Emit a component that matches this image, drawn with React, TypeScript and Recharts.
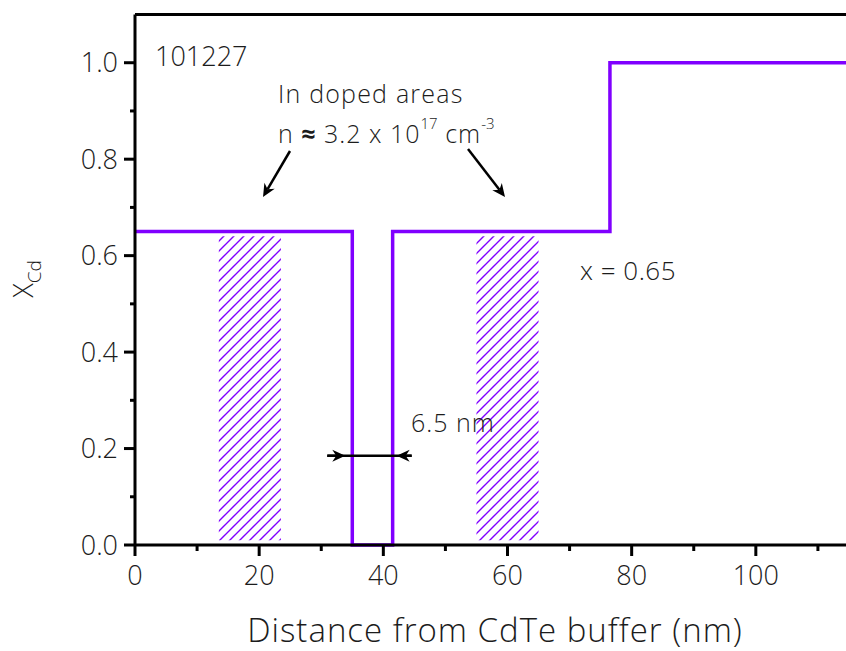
import { LineChart, Line, XAxis, YAxis, ReferenceArea, ReferenceLine } from "recharts";

// Cd composition profile (step profile of the quantum well structure)
const distance = [0, 35, 35, 41.5, 41.5, 76.5, 76.5, 120];
const xCd = [0.65, 0.65, 0, 0, 0.65, 0.65, 1.0, 1.0];

// In-doped regions (hatched)
const dopedFrom = [13.5, 55];
const dopedTo = [23.5, 65];
const dopedTop = 0.64;
const dopedBottom = 0.01;

const xTicks = [0, 10, 20, 30, 40, 50, 60, 70, 80, 90, 100, 110];
const yTicks = [0, 0.1, 0.2, 0.3, 0.4, 0.5, 0.6, 0.7, 0.8, 0.9, 1.0];

const data = distance.map((d, i) => ({ x: d, y: xCd[i] }));

const FONT = "'Open Sans', sans-serif";
const TEXT = "#1c1c1c";
const PURPLE = "#8000ff";

// plot geometry (used only for the overlay annotations)
const W = 900;
const H = 651;
const LEFT = 135;
const TOP = 14.5;
const RIGHT = 20;
const BOTTOM = 106;
const X_MAX = 120;
const Y_MAX = 1.1;
const plotW = W - LEFT - RIGHT;
const plotH = H - TOP - BOTTOM;
const px = (v: number) => LEFT + (v / X_MAX) * plotW;
const py = (v: number) => TOP + plotH - (v / Y_MAX) * plotH;

const XTick = (props: any) => {
  const { x, y, payload } = props;
  const major = Math.round(payload.value) % 20 === 0;
  return (
    <g>
      <line x1={x} x2={x} y1={y} y2={y + (major ? 11 : 6)} stroke="#000" strokeWidth={3} />
      {major && (
        <text x={x} y={y + 40} textAnchor="middle" fontSize={27} fontFamily={FONT} fontWeight={300} fill={TEXT}>
          {payload.value}
        </text>
      )}
    </g>
  );
};

const YTick = (props: any) => {
  const { x, y, payload } = props;
  const major = Math.round(payload.value * 10) % 2 === 0;
  return (
    <g>
      <line x1={x} x2={x - (major ? 11 : 5)} y1={y} y2={y} stroke="#000" strokeWidth={3} />
      {major && (
        <text x={x - 17} y={y + 9.5} textAnchor="end" fontSize={27} fontFamily={FONT} fontWeight={300} fill={TEXT}>
          {payload.value.toFixed(1)}
        </text>
      )}
    </g>
  );
};

function Arrow({ x1, y1, x2, y2 }: { x1: number; y1: number; x2: number; y2: number }) {
  const a = Math.atan2(y2 - y1, x2 - x1);
  const len = 13;
  const half = 6;
  const bx = x2 - len * Math.cos(a);
  const by = y2 - len * Math.sin(a);
  const nx = -Math.sin(a);
  const ny = Math.cos(a);
  const ix = x2 - len * 0.7 * Math.cos(a);
  const iy = y2 - len * 0.7 * Math.sin(a);
  return (
    <g>
      <line x1={x1} y1={y1} x2={ix} y2={iy} stroke="#000" strokeWidth={2.5} />
      <path
        d={`M${x2},${y2} L${bx + nx * half},${by + ny * half} L${ix},${iy} L${bx - nx * half},${by - ny * half} Z`}
        fill="#000"
      />
    </g>
  );
}

function Overlay() {
  const wallL = px(35);
  const wallR = px(41.5);
  const ya = py(0.185);
  return (
    <svg width={846} height={651} style={{ position: "absolute", left: 0, top: 0, pointerEvents: "none" }}>
      <g fontFamily={FONT} fontWeight={300} fill={TEXT}>
        <text x={155} y={66} fontSize={27}>101227</text>
        <text x={278} y={103} fontSize={25} letterSpacing={1.2}>In doped areas</text>
        <text x={278} y={143} fontSize={25} letterSpacing={1}>
          <tspan>n </tspan>
          <tspan fontWeight={700}>≈</tspan>
          <tspan> 3.2 x 10</tspan>
          <tspan dy={-14} fontSize={15} letterSpacing={0}>17</tspan>
          <tspan dy={14}> cm</tspan>
          <tspan dy={-14} fontSize={15} letterSpacing={0}>-3</tspan>
        </text>
        <text x={580} y={280} fontSize={26} letterSpacing={0.5}>x = 0.65</text>
        <text x={411} y={432} fontSize={25} letterSpacing={1}>6.5 nm</text>
        <text x={495} y={642} fontSize={33} letterSpacing={1} textAnchor="middle">Distance from CdTe buffer (nm)</text>
        <text transform="translate(33,279) rotate(-90)" fontSize={27} textAnchor="middle">
          <tspan>X</tspan>
          <tspan fontSize={19} dy={8}>Cd</tspan>
        </text>
      </g>
      <Arrow x1={290} y1={151} x2={263} y2={197} />
      <Arrow x1={468} y1={149} x2={505} y2={197} />
      <line x1={wallL - 25} x2={wallR + 19} y1={ya} y2={ya} stroke="#000" strokeWidth={2.5} />
      <Arrow x1={wallL - 25} y1={ya} x2={wallL - 7} y2={ya} />
      <Arrow x1={wallR + 19} y1={ya} x2={wallR + 4} y2={ya} />
    </svg>
  );
}

export default function App() {
  return (
    <div style={{ position: "absolute", left: 0, top: 0, width: 846, height: 651, overflow: "hidden", background: "#fff" }}>
      <svg width={0} height={0} style={{ position: "absolute" }}>
        <defs>
          <pattern id="hatch" patternUnits="userSpaceOnUse" width={10} height={10}>
            <path d="M0,10 L10,0 M-2,2 L2,-2 M8,12 L12,8" stroke={PURPLE} strokeWidth={1.4} />
          </pattern>
        </defs>
      </svg>
      <LineChart width={W} height={H} data={data} margin={{ top: TOP, right: RIGHT, left: 0, bottom: 0 }}>
        <XAxis
          dataKey="x"
          type="number"
          domain={[0, X_MAX]}
          ticks={xTicks}
          interval={0}
          height={BOTTOM}
          tickSize={0}
          tickMargin={0}
          tick={<XTick />}
          axisLine={{ stroke: "#000", strokeWidth: 3 }}
        />
        <YAxis
          type="number"
          domain={[0, Y_MAX]}
          ticks={yTicks}
          interval={0}
          width={LEFT}
          tickSize={0}
          tickMargin={0}
          tick={<YTick />}
          axisLine={{ stroke: "#000", strokeWidth: 3 }}
        />
        {dopedFrom.map((x1, i) => (
          <ReferenceArea
            key={i}
            x1={x1}
            x2={dopedTo[i]}
            y1={dopedBottom}
            y2={dopedTop}
            fill="url(#hatch)"
            fillOpacity={1}
            stroke="none"
          />
        ))}
        <ReferenceLine y={Y_MAX} stroke="#000" strokeWidth={3} />
        <Line
          type="linear"
          dataKey="y"
          stroke={PURPLE}
          strokeWidth={3.5}
          dot={false}
          isAnimationActive={false}
        />
      </LineChart>
      <Overlay />
    </div>
  );
}
